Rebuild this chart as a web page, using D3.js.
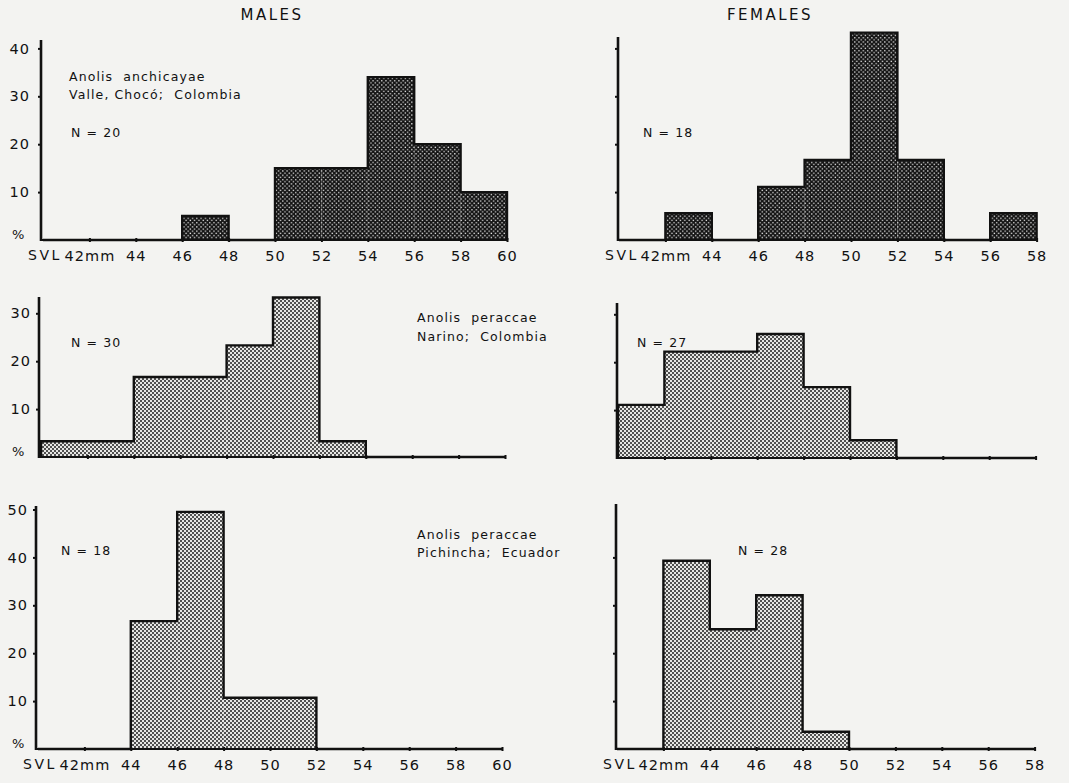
<!DOCTYPE html>
<html lang="en">
<head>
  <meta charset="UTF-8">
  <title>Anolis SVL histograms</title>
  <script src="https://d3js.org/d3.v7.min.js"></script>
  <style>
    body { margin: 0; background: #f3f3f1; }
    svg { display: block; }
    text { font-family: "DejaVu Sans", sans-serif; fill: #111; }
    .tick text { font-size: 14.5px; letter-spacing: 1px; }
    .note { font-size: 12.5px; letter-spacing: 1.1px; }
    .head { font-size: 15px; letter-spacing: 2.5px; }
  </style>
</head>
<body>
  <script>
    // percent of specimens per 2 mm SVL class, first class = 40-42 mm
    const malesValle   = [0, 0, 0, 5, 0, 15, 15, 34, 20, 10];
    const femalesValle = [0, 5.6, 0, 11.1, 16.7, 43.3, 16.7, 0, 5.6];
    const malesNarino   = [3.3, 3.3, 16.7, 16.7, 23.3, 33.3, 3.3, 0, 0, 0];
    const femalesNarino = [11.1, 22.2, 22.2, 25.9, 14.8, 3.7, 0, 0, 0];
    const malesPichincha   = [0, 0, 26.7, 49.5, 10.7, 10.7, 0, 0, 0, 0];
    const femalesPichincha = [0, 39.3, 25, 32.1, 3.6, 0, 0, 0, 0];

    const svlTicksMales   = [42, 44, 46, 48, 50, 52, 54, 56, 58, 60];
    const svlTicksFemales = [42, 44, 46, 48, 50, 52, 54, 56, 58];
    const pctTicksTop = [10, 20, 30, 40];
    const pctTicksMid = [10, 20, 30];
    const pctTicksBot = [10, 20, 30, 40, 50];
    const pctTicksBotF = [10, 20, 30, 40];

    const width = 1069, height = 783;
    const pxPerPct = 4.79;
    const binW = 2, x0 = 40;

    const svg = d3.select("body").append("svg")
      .attr("width", width).attr("height", height);

    // stipple fills
    const defs = svg.append("defs");
    const dark = defs.append("pattern").attr("id", "dark")
      .attr("width", 4.3).attr("height", 4.3).attr("patternUnits", "userSpaceOnUse");
    dark.append("rect").attr("width", 4.3).attr("height", 4.3).attr("fill", "#141414");
    dark.append("rect").attr("x", 0.5).attr("y", 0.5).attr("width", 1.3).attr("height", 1.3).attr("fill", "#e8e8e8");
    dark.append("rect").attr("x", 2.65).attr("y", 2.65).attr("width", 1.3).attr("height", 1.3).attr("fill", "#e8e8e8");

    const light = defs.append("pattern").attr("id", "light")
      .attr("width", 4).attr("height", 4).attr("patternUnits", "userSpaceOnUse");
    light.append("rect").attr("width", 4).attr("height", 4).attr("fill", "#e6e6e4");
    light.append("rect").attr("x", 0).attr("y", 0).attr("width", 2).attr("height", 2).attr("fill", "#505050");
    light.append("rect").attr("x", 2).attr("y", 2).attr("width", 2).attr("height", 2).attr("fill", "#505050");

    const panels = [
      { data: malesValle, ax: 41, base: 240, top: 40, xmax: 60, ticks: svlTicksMales, yt: pctTicksTop, ylab: true, xlab: true, fill: "dark" },
      { data: femalesValle, ax: 618, base: 240, top: 37, xmax: 58, ticks: svlTicksFemales, yt: pctTicksTop, ylab: false, xlab: true, fill: "dark" },
      { data: malesNarino, ax: 39, base: 457, top: 297, xmax: 60, ticks: svlTicksMales, yt: pctTicksMid, ylab: true, xlab: false, fill: "light" },
      { data: femalesNarino, ax: 617, base: 458, top: 303, xmax: 58, ticks: svlTicksFemales, yt: pctTicksMid, ylab: false, xlab: false, fill: "light" },
      { data: malesPichincha, ax: 36, base: 749, top: 506, xmax: 60, ticks: svlTicksMales, yt: pctTicksBot, ylab: true, xlab: true, fill: "light" },
      { data: femalesPichincha, ax: 616, base: 749, top: 504, xmax: 58, ticks: svlTicksFemales, yt: pctTicksBotF, ylab: false, xlab: true, fill: "light" }
    ];

    panels.forEach(p => {
      const left = p.ax + (p.xmax === 60 ? 2 : 1);
      const x = d3.scaleLinear().domain([x0, p.xmax])
        .range([left, left + (p.xmax - x0) / binW * 46.4]);
      const y = d3.scaleLinear().domain([0, (p.base - p.top) / pxPerPct])
        .range([p.base, p.top]);

      const bins = p.data.map((v, i) => ({ lo: x0 + i * binW, hi: x0 + (i + 1) * binW, v: v }));
      const g = svg.append("g");

      // fills
      g.selectAll("rect.bar")
        .data(bins.filter(d => d.v > 0))
        .join("rect")
        .attr("class", "bar")
        .attr("x", d => x(d.lo))
        .attr("y", d => y(d.v))
        .attr("width", d => x(d.hi) - x(d.lo))
        .attr("height", d => y(0) - y(d.v))
        .attr("fill", `url(#${p.fill})`);

      // outline as one stepped line
      const pts = bins.map(d => [d.lo, d.v]);
      pts.push([bins[bins.length - 1].hi, bins[bins.length - 1].v]);
      const step = d3.line().x(d => x(d[0])).y(d => y(d[1])).curve(d3.curveStepAfter);
      g.append("path")
        .attr("d", `M${x(x0)},${y(0)}` + step(pts).replace(/^M/, "L") + `L${x(p.xmax)},${y(0)}`)
        .attr("fill", "none").attr("stroke", "#111").attr("stroke-width", 2.4)
        .attr("stroke-linejoin", "miter");

      // x axis
      const xAxis = d3.axisBottom(x).tickValues(p.ticks).tickSize(3).tickSizeOuter(0)
        .tickFormat(d => p.xlab ? (d === 42 ? "42mm" : d) : "");
      const gx = g.append("g").attr("transform", `translate(0,${p.base})`).call(xAxis);
      gx.select(".domain").attr("stroke", "#111").attr("stroke-width", 2.2)
        .attr("d", `M${p.ax},0H${x(p.xmax)}`);
      gx.selectAll(".tick line").attr("stroke", "#111").attr("stroke-width", 2).attr("y1", -2).attr("y2", 2);
      gx.selectAll(".tick text").attr("y", 11).attr("dy", "0.71em");
      if (p.xlab) {
        g.append("text").attr("x", p.ax + 4).attr("y", p.base + 19.5)
          .attr("text-anchor", "middle").style("font-size", "14px").style("letter-spacing", "2.5px")
          .text("SVL");
      }

      // y axis
      const yAxis = d3.axisLeft(y).tickValues(p.yt).tickSize(3).tickSizeOuter(0)
        .tickFormat(d => p.ylab ? d : "");
      const gy = g.append("g").attr("transform", `translate(${p.ax},0)`).call(yAxis);
      gy.select(".domain").attr("stroke", "#111").attr("stroke-width", 2.6)
        .attr("d", `M0,${p.top}V${p.base + 1}`);
      gy.selectAll(".tick line").attr("stroke", "#111").attr("stroke-width", 2);
      gy.selectAll(".tick text").attr("x", p.ax === 41 ? -11 : -8).attr("text-anchor", "end");
      if (p.ylab) {
        g.append("text").attr("x", 12).attr("y", p.base - 1)
          .style("font-size", "13px").text("%");
      }
    });

    // titles and annotations
    svg.append("text").attr("class", "head").attr("x", 272).attr("y", 20).attr("text-anchor", "middle").text("MALES");
    svg.append("text").attr("class", "head").attr("x", 770).attr("y", 20).attr("text-anchor", "middle").text("FEMALES");

    const notes = [
      ["Anolis  anchicayae", 69, 81],
      ["Valle, Chocó;  Colombia", 69, 99],
      ["N = 20", 71, 137],
      ["N = 18", 643, 137],
      ["Anolis  peraccae", 417, 322],
      ["Narino;  Colombia", 417, 341],
      ["N = 30", 71, 347],
      ["N = 27", 637, 347],
      ["Anolis  peraccae", 417, 539],
      ["Pichincha;  Ecuador", 417, 557],
      ["N = 18", 61, 555],
      ["N = 28", 738, 555]
    ];
    svg.selectAll("text.note").data(notes).join("text")
      .attr("class", "note")
      .attr("x", d => d[1]).attr("y", d => d[2])
      .style("white-space", "pre")
      .text(d => d[0]);
  </script>
</body>
</html>
